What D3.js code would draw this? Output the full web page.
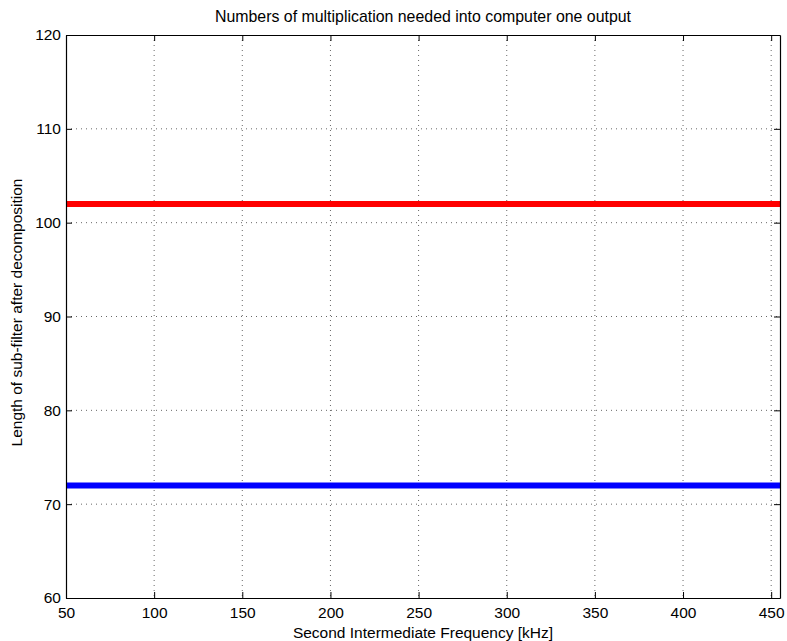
<!DOCTYPE html>
<meta charset="utf-8">
<style>
  body { margin: 0; background: #fff; }
  svg text { font-family: "Liberation Sans", Arial, Helvetica, sans-serif; fill: #000; }
  .grid line { stroke: #000; stroke-width: 0.6; stroke-dasharray: 1,4; }
</style>
<body>
<script src="https://d3js.org/d3.v7.min.js"></script>
<script>
  // data
  var freqs = [50, 455];
  var redSeries = [102, 102];
  var blueSeries = [72, 72];
  var xTicks = [50, 100, 150, 200, 250, 300, 350, 400, 450];
  var yTicks = [60, 70, 80, 90, 100, 110, 120];

  var margin = {top: 35, right: 7, bottom: 43, left: 66},
      width = 787 - margin.left - margin.right,
      height = 641 - margin.top - margin.bottom;

  var x = d3.scaleLinear().domain([50, 455]).range([0, width]);
  var y = d3.scaleLinear().domain([60, 120]).range([height, 0]);

  var svg = d3.select("body").append("svg")
      .attr("width", 787).attr("height", 641)
    .append("g")
      .attr("transform", "translate(" + margin.left + "," + margin.top + ")");

  // grid
  var grid = svg.append("g").attr("class", "grid");
  grid.selectAll(".gx").data(xTicks.slice(1)).enter().append("line")
      .attr("x1", d => x(d)).attr("x2", d => x(d))
      .attr("y1", 0).attr("y2", height);
  grid.selectAll(".gy").data(yTicks.slice(1, -1)).enter().append("line")
      .attr("x1", 0).attr("x2", width)
      .attr("y1", d => y(d)).attr("y2", d => y(d));

  // lines
  var line = d3.line().x((d, i) => x(freqs[i])).y(d => y(d));
  svg.append("path").datum(redSeries).attr("d", line)
      .attr("fill", "none").attr("stroke", "#ff0000").attr("stroke-width", 6);
  svg.append("path").datum(blueSeries).attr("d", line)
      .attr("fill", "none").attr("stroke", "#0000ff").attr("stroke-width", 6);

  // axes (ticks inward, mirrored)
  function style(g) {
    g.select(".domain").attr("stroke", "#000").attr("stroke-width", 1.2);
    g.selectAll(".tick line").attr("stroke", "#000");
    g.selectAll("text").attr("font-size", 15.5);
  }
  svg.append("g").attr("transform", "translate(0," + height + ")")
      .call(d3.axisBottom(x).tickValues(xTicks).tickSize(-6).tickSizeOuter(0).tickPadding(9))
      .call(style);
  svg.append("g")
      .call(d3.axisTop(x).tickValues(xTicks).tickSize(-6).tickSizeOuter(0).tickFormat(""))
      .call(style);
  svg.append("g")
      .call(d3.axisLeft(y).tickValues(yTicks).tickSize(-6).tickSizeOuter(0).tickPadding(5))
      .call(style);
  svg.append("g").attr("transform", "translate(" + width + ",0)")
      .call(d3.axisRight(y).tickValues(yTicks).tickSize(-6).tickSizeOuter(0).tickFormat(""))
      .call(style);

  // labels
  svg.append("text").attr("x", width / 2).attr("y", -13)
      .attr("text-anchor", "middle").attr("font-size", 15.9)
      .text("Numbers of multiplication needed into computer one output");
  svg.append("text").attr("x", width / 2).attr("y", height + 40)
      .attr("text-anchor", "middle").attr("font-size", 15.5)
      .text("Second Intermediate Frequency [kHz]");
  svg.append("text")
      .attr("transform", "translate(-44," + (height / 2 - 4) + ") rotate(-90)")
      .attr("text-anchor", "middle").attr("font-size", 15.5)
      .text("Length of sub-filter after decomposition");
</script>
</body>
